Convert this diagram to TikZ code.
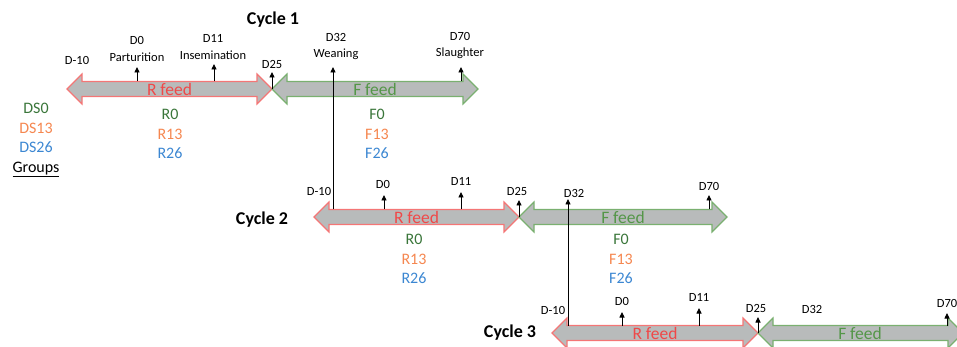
\documentclass[tikz,border=0pt]{standalone}
\usepackage{fontspec}
\setmainfont{Carlito}
\usetikzlibrary{arrows.meta}
\definecolor{fillgray}{RGB}{184,187,187}
\definecolor{redline}{RGB}{244,118,118}
\definecolor{redtext}{RGB}{240,72,72}
\definecolor{greenline}{RGB}{122,176,112}
\definecolor{greentext}{RGB}{84,150,72}
\definecolor{dsgreen}{RGB}{58,118,58}
\definecolor{dsorange}{RGB}{245,135,80}
\definecolor{dsblue}{RGB}{60,135,210}
\newcommand{\feedshape}[4]{\path[#4] (#1,#3) -- ++(15,-15) -- ++(0,7.5) -- (#2-15,#3-7.5) -- ++(0,-7.5) -- (#2,#3) -- (#2-15,#3+15) -- ++(0,-7.5) -- (#1+15,#3+7.5) -- ++(0,7.5) -- cycle;}
\begin{document}
\begin{tikzpicture}[x=1pt,y=-1pt,
  lbl/.style={font=\fontsize{12.5}{13}\selectfont, inner sep=0},
  grp/.style={font=\fontsize{16}{17}\selectfont, inner sep=0},
  feedtxt/.style={font=\fontsize{17.5}{18}\selectfont, inner sep=0},
  cyc/.style={font=\bfseries\fontsize{18}{19}\selectfont, inner sep=0},
  tick/.style={-{Triangle[length=5.5pt,width=5pt]}, line width=0.9pt},
  rarrow/.style={draw=redline, fill=fillgray, line width=1.2pt},
  farrow/.style={draw=greenline, fill=fillgray, line width=1.2pt}]
\useasboundingbox (0,0) rectangle (957,347);
\begin{scope}
\clip (0,0) rectangle (957,347);
% ---------- arrows ----------
\feedshape{67}{272}{89}{rarrow}
\feedshape{272}{478}{89}{farrow}
\feedshape{314}{519}{217}{rarrow}
\feedshape{519}{727}{217}{farrow}
\feedshape{552}{758}{333}{rarrow}
\feedshape{758}{963}{333}{farrow}
\end{scope}
% ---------- feed labels ----------
\node[feedtxt, text=redtext] (rf1) at (169.5,89) {R feed};
\node[feedtxt, text=greentext] (ff1) at (375,89) {F feed};
\node[feedtxt, text=redtext] (rf2) at (416.5,217) {R feed};
\node[feedtxt, text=greentext] (ff2) at (623,217) {F feed};
\node[feedtxt, text=redtext] (rf3) at (655,333) {R feed};
\node[feedtxt, text=greentext] (ff3) at (860,333) {F feed};
% ---------- cycle labels ----------
\node[cyc] (cy1) at (273,20) {Cycle 1};
\node[cyc] (cy2) at (262,220) {Cycle 2};
\node[cyc] (cy3) at (510,333) {Cycle 3};
% ---------- cycle 1 ticks ----------
\coordinate (c1d0a) at (137,81.5); \coordinate (c1d0b) at (137,67);
\coordinate (c1d11a) at (214,81.5); \coordinate (c1d11b) at (214,64);
\coordinate (c1d25a) at (272,89); \coordinate (c1d25b) at (272,72);
\coordinate (c1d70a) at (461,81.5); \coordinate (c1d70b) at (461,67);
\coordinate (w1a) at (333,209.5); \coordinate (w1b) at (333,67);
\draw[tick] (c1d0a) -- (c1d0b);
\draw[tick] (c1d11a) -- (c1d11b);
\draw[tick] (c1d25a) -- (c1d25b);
\draw[tick] (c1d70a) -- (c1d70b);
\draw[tick] (w1a) -- (w1b);
% ---------- cycle 2 ticks ----------
\coordinate (c2d0a) at (384,209.5); \coordinate (c2d0b) at (384,195);
\coordinate (c2d11a) at (461,209.5); \coordinate (c2d11b) at (461,192);
\coordinate (c2d25a) at (519,217); \coordinate (c2d25b) at (519,200);
\coordinate (c2d70a) at (709,209.5); \coordinate (c2d70b) at (709,195);
\coordinate (w2a) at (568,325.5); \coordinate (w2b) at (568,199);
\draw[tick] (c2d0a) -- (c2d0b);
\draw[tick] (c2d11a) -- (c2d11b);
\draw[tick] (c2d25a) -- (c2d25b);
\draw[tick] (c2d70a) -- (c2d70b);
\draw[tick] (w2a) -- (w2b);
% ---------- cycle 3 ticks ----------
\coordinate (c3d0a) at (622,325.5); \coordinate (c3d0b) at (622,312);
\coordinate (c3d11a) at (699,325.5); \coordinate (c3d11b) at (699,308);
\coordinate (c3d25a) at (758,333); \coordinate (c3d25b) at (758,317);
\coordinate (c3d70a) at (947,325.5); \coordinate (c3d70b) at (947,313);
\draw[tick] (c3d0a) -- (c3d0b);
\draw[tick] (c3d11a) -- (c3d11b);
\draw[tick] (c3d25a) -- (c3d25b);
\draw[tick] (c3d70a) -- (c3d70b);
% ---------- cycle 1 texts ----------
\node[lbl] (t1m10) at (77,60) {D-10};
\node[lbl] (t1d0) at (137,40) {D0};
\node[lbl] (t1par) at (137,57) {Parturition};
\node[lbl] (t1d11) at (213,38) {D11};
\node[lbl] (t1ins) at (213,55) {Insemination};
\node[lbl] (t1d25) at (272,64) {D25};
\node[lbl] (t1d32) at (336,37) {D32};
\node[lbl] (t1wea) at (336,54) {Weaning};
\node[lbl] (t1d70) at (460,36) {D70};
\node[lbl] (t1sla) at (460,53) {Slaughter};
% ---------- groups ----------
\node[grp, text=dsgreen] (ds0) at (36,108) {DS0};
\node[grp, text=dsorange] (ds13) at (36,128) {DS13};
\node[grp, text=dsblue] (ds26) at (36,147) {DS26};
\node[grp] (grps) at (36,169.5) {\underline{Groups}};
\node[grp, text=dsgreen] (r10) at (170,114) {R0};
\node[grp, text=dsorange] (r113) at (170,134) {R13};
\node[grp, text=dsblue] (r126) at (170,153) {R26};
\node[grp, text=dsgreen] (f10) at (377,114) {F0};
\node[grp, text=dsorange] (f113) at (377,134) {F13};
\node[grp, text=dsblue] (f126) at (377,153) {F26};
% ---------- cycle 2 texts ----------
\node[lbl] (t2m10) at (319,191) {D-10};
\node[lbl] (t2d0) at (383,184) {D0};
\node[lbl] (t2d11) at (461,181) {D11};
\node[lbl] (t2d25) at (517,191) {D25};
\node[lbl] (t2d32) at (574,193) {D32};
\node[lbl] (t2d70) at (709,186) {D70};
\node[grp, text=dsgreen] (r20) at (414,239) {R0};
\node[grp, text=dsorange] (r213) at (414,259) {R13};
\node[grp, text=dsblue] (r226) at (414,278) {R26};
\node[grp, text=dsgreen] (f20) at (621,239) {F0};
\node[grp, text=dsorange] (f213) at (621,259) {F13};
\node[grp, text=dsblue] (f226) at (621,278) {F26};
% ---------- cycle 3 texts ----------
\node[lbl] (t3m10) at (553,310) {D-10};
\node[lbl] (t3d0) at (622,301) {D0};
\node[lbl] (t3d11) at (699,297) {D11};
\node[lbl] (t3d25) at (756,308) {D25};
\node[lbl] (t3d32) at (812,309) {D32};
\node[lbl] (t3d70) at (947,303) {D70};
\end{tikzpicture}
\end{document}
